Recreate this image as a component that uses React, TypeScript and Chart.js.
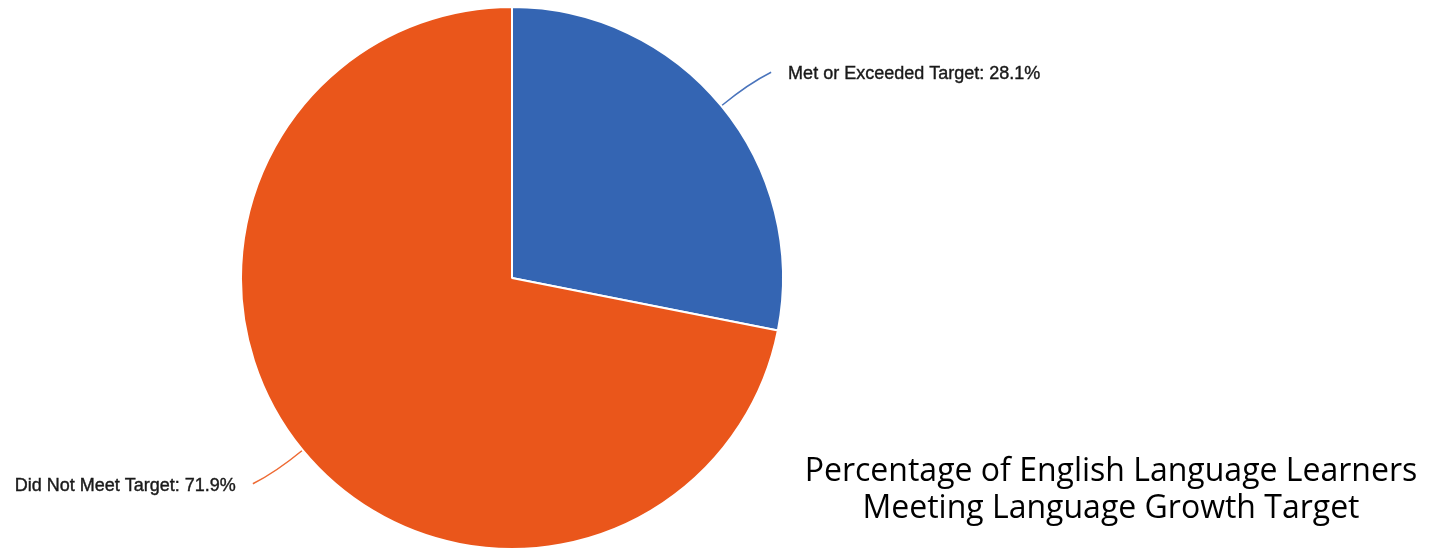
import React, { useEffect, useRef } from "react";
import { Chart, registerables } from "chart.js";

Chart.register(...registerables);

const categories = ["Met or Exceeded Target", "Did Not Meet Target"];
const values = [28.1, 71.9];
const sliceColors = ["#3465B3", "#EA561B"];
const lineColors = ["#4A74BC", "#EE6A33"];
const titleLines = [
  "Percentage of English Language Learners",
  "Meeting Language Growth Target",
];

const sliceLabelPlugin = {
  id: "sliceLabels",
  afterDatasetsDraw(chart: any) {
    const ctx = chart.ctx;
    const meta = chart.getDatasetMeta(0);
    meta.data.forEach((arc: any, i: number) => {
      const p = arc.getProps(["x", "y", "startAngle", "endAngle", "outerRadius"], true);
      const mid = (p.startAngle + p.endAngle) / 2;
      const c = Math.cos(mid);
      const s = Math.sin(mid);
      const sx = p.x + c * (p.outerRadius + 1);
      const sy = p.y + s * (p.outerRadius + 1);
      const side = c >= 0 ? 1 : -1;
      const ex = sx + side * 49;
      const ey = sy + s * 52;
      const cx = sx + c * 34;
      const cy = sy + s * 34;
      ctx.save();
      ctx.strokeStyle = lineColors[i];
      ctx.lineWidth = 1.5;
      ctx.beginPath();
      ctx.moveTo(sx, sy);
      ctx.quadraticCurveTo(cx, cy, ex, ey);
      ctx.stroke();
      ctx.fillStyle = "#1a1a1a";
      ctx.font = "18px 'Liberation Sans', Arial, sans-serif";
      ctx.textBaseline = "middle";
      ctx.textAlign = side > 0 ? "left" : "right";
      const text = categories[i] + ": " + values[i].toFixed(1) + "%";
      const tx = ex + side * 17;
      const ty = ey + 2;
      ctx.fillText(text, tx, ty);
      ctx.strokeStyle = "#1a1a1a";
      ctx.lineWidth = 0.4;
      ctx.strokeText(text, tx, ty);
      ctx.restore();
    });
  },
};

const titlePlugin = {
  id: "cornerTitle",
  afterDraw(chart: any) {
    const ctx = chart.ctx;
    ctx.save();
    ctx.fillStyle = "#000000";
    ctx.font = "32px 'Open Sans', sans-serif";
    ctx.textAlign = "center";
    ctx.textBaseline = "alphabetic";
    titleLines.forEach((line, i) => {
      ctx.fillText(line, 1111, 481 + i * 37);
    });
    ctx.restore();
  },
};

export default function App() {
  const canvasRef = useRef<HTMLCanvasElement | null>(null);

  useEffect(() => {
    if (!canvasRef.current) return;
    const chart = new Chart(canvasRef.current, {
      type: "pie",
      data: {
        labels: categories,
        datasets: [
          {
            data: values,
            backgroundColor: sliceColors,
            borderColor: "#ffffff",
            borderWidth: 2,
          },
        ],
      },
      options: {
        responsive: false,
        animation: false,
        devicePixelRatio: 1,
        layout: { padding: { left: 240, right: 645, top: 5, bottom: 0 } },
        plugins: {
          legend: { display: false },
          tooltip: { enabled: false },
          title: { display: false },
        },
      },
      plugins: [sliceLabelPlugin, titlePlugin],
    });
    return () => chart.destroy();
  }, []);

  return (
    <div style={{ position: "fixed", left: 0, top: 0, width: 1429, height: 551, background: "#ffffff" }}>
      <canvas ref={canvasRef} width={1429} height={551} />
    </div>
  );
}
